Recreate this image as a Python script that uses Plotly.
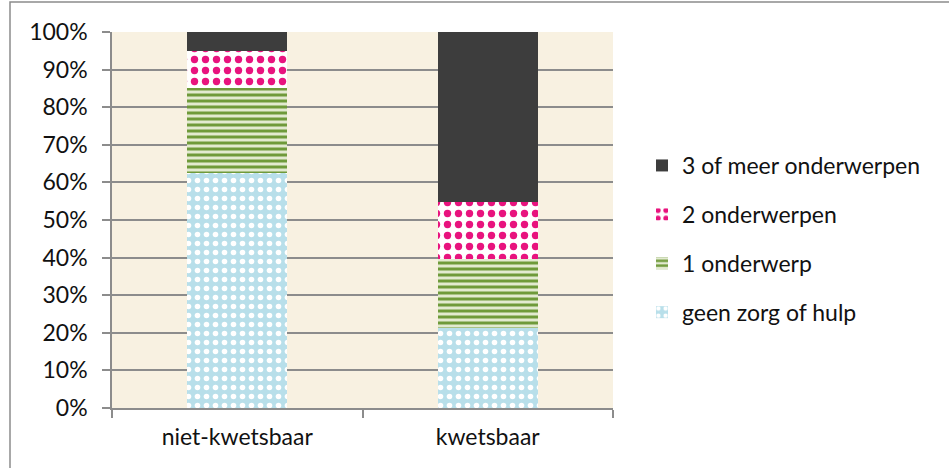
import plotly.graph_objects as go

categories = ["niet-kwetsbaar", "kwetsbaar"]
series_names = ["geen zorg of hulp", "1 onderwerp", "2 onderwerpen", "3 of meer onderwerpen"]
geen_zorg = [62.6, 21.2]
een_onderwerp = [22.4, 18.4]
twee_onderwerpen = [9.9, 15.3]
drie_of_meer = [5.1, 45.1]
y_ticks = [0, 10, 20, 30, 40, 50, 60, 70, 80, 90, 100]

W, H = 949, 468
L, R, T, B = 112, 613, 32, 408

styles = [
    dict(shape=".", bgcolor="#b8dfea", fgcolor="#ffffff", size=9, solidity=0.3),
    dict(shape="-", bgcolor="#e2ead0", fgcolor="#6f9a3a", size=6, solidity=0.5),
    dict(shape=".", bgcolor="#ffffff", fgcolor="#e8137e", size=11, solidity=0.35),
    dict(shape="", bgcolor="#3d3d3d", fgcolor="#3d3d3d", size=8, solidity=0.5),
]
values = [geen_zorg, een_onderwerp, twee_onderwerpen, drie_of_meer]

fig = go.Figure()
for i, (name, vals) in enumerate(zip(series_names, values)):
    st = styles[i]
    pattern = dict(fillmode="replace", **st) if st["shape"] else None
    fig.add_trace(go.Bar(
        x=categories, y=vals, name=name, width=0.4,
        legendgroup=f"g{i}", legendrank=10 - i,
        marker=dict(color=st["bgcolor"], line=dict(width=0), pattern=pattern),
    ))

font_family = "Lato, 'Open Sans', sans-serif"
fs = 23

fig.update_layout(
    barmode="stack",
    width=W, height=H,
    margin=dict(l=L, r=W - R, t=T, b=H - B, pad=0),
    paper_bgcolor="white",
    plot_bgcolor="#f8f1e1",
    font=dict(family=font_family, size=fs, color="#111111"),
    showlegend=True,
    legend=dict(
        x=(642 - L) / (R - L), y=(B - 144) / (B - T),
        xanchor="left", yanchor="top",
        traceorder="grouped", tracegroupgap=16,
        font=dict(family=font_family, size=fs, color="#111111"),
        bgcolor="rgba(0,0,0,0)", itemwidth=30,
    ),
    xaxis=dict(
        showline=True, linecolor="#8c8c8c", linewidth=1.5,
        ticks="outside", tickson="boundaries", ticklen=8, tickcolor="#8c8c8c", tickwidth=1.5,
        showgrid=False, tickfont=dict(size=fs), ticklabelstandoff=8,
    ),
    yaxis=dict(
        range=[0, 100], tickvals=y_ticks, ticktext=[f"{v}%" for v in y_ticks],
        showline=True, linecolor="#8c8c8c", linewidth=1.5,
        ticks="outside", ticklen=8, tickcolor="#8c8c8c", tickwidth=1.5,
        showgrid=True, gridcolor="#8c8c8c", gridwidth=1.5,
        zeroline=False, tickfont=dict(size=fs), ticklabelstandoff=10,
    ),
    shapes=[dict(
        type="rect", xref="paper", yref="paper",
        x0=(10 - L) / (R - L), x1=(W + 20 - L) / (R - L),
        y0=(B - (H + 20)) / (B - T), y1=(B - 2) / (B - T),
        line=dict(color="#8c8c8c", width=1.5), fillcolor="rgba(0,0,0,0)",
        layer="above",
    )],
)

fig.write_html("out.html")
